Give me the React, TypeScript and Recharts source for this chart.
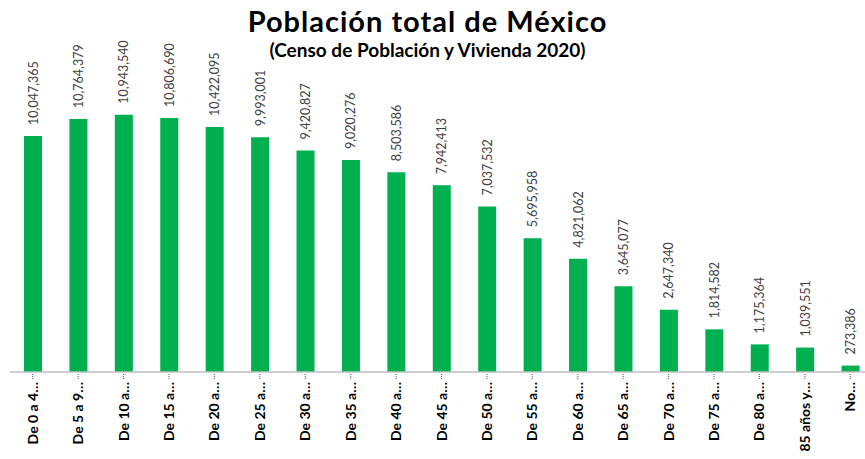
import { Bar, BarChart, LabelList, XAxis, YAxis } from "recharts";

const categories = [
  "De 0 a 4…",
  "De 5 a 9…",
  "De 10 a…",
  "De 15 a…",
  "De 20 a…",
  "De 25 a…",
  "De 30 a…",
  "De 35 a…",
  "De 40 a…",
  "De 45 a…",
  "De 50 a…",
  "De 55 a…",
  "De 60 a…",
  "De 65 a…",
  "De 70 a…",
  "De 75 a…",
  "De 80 a…",
  "85 años y…",
  "No…",
];

const population = [
  10047365, 10764379, 10943540, 10806690, 10422095, 9993001, 9420827, 9020276,
  8503586, 7942413, 7037532, 5695958, 4821062, 3645077, 2647340, 1814582,
  1175364, 1039551, 273386,
];

const data = categories.map((name, i) => ({ name, value: population[i] }));

const font = "Lato, 'Open Sans', sans-serif";

function CategoryTick(props: any) {
  const { x, y, payload } = props;
  return (
    <g>
      <line x1={x} y1={y - 6} x2={x} y2={y - 1} stroke="#595959" strokeDasharray="1 1" />
      <text
        x={0}
        y={0}
        transform={`translate(${x + 5},${y + 2}) rotate(-90)`}
        textAnchor="end"
        fontFamily={font}
        fontWeight={700}
        fontSize={14}
        fill="#000"
      >
        {payload.value}
      </text>
    </g>
  );
}

function ValueLabel(props: any) {
  const { x, y, width, value } = props;
  const cx = x + width / 2 + 4.5;
  return (
    <text
      x={0}
      y={0}
      transform={`translate(${cx},${y - 11}) rotate(-90)`}
      textAnchor="start"
      fontFamily={font}
      fontSize={12.5}
      fill="#404040"
    >
      {Number(value).toLocaleString("en-US")}
    </text>
  );
}

export default function App() {
  return (
    <div
      style={{
        position: "absolute",
        left: 0,
        top: 0,
        width: 865,
        height: 459,
        overflow: "hidden",
        background: "#fff",
      }}
    >
      <div
        style={{
          position: "absolute",
          left: 0,
          top: 3,
          width: 855,
          textAlign: "center",
          fontFamily: font,
          fontWeight: 700,
          fontSize: 29,
          letterSpacing: 1,
          color: "#000",
        }}
      >
        Población total de México
      </div>
      <div
        style={{
          position: "absolute",
          left: 0,
          top: 38,
          width: 855,
          textAlign: "center",
          fontFamily: font,
          fontWeight: 700,
          fontSize: 19,
          color: "#000",
        }}
      >
        (Censo de Población y Vivienda 2020)
      </div>
      <div style={{ position: "absolute", left: 0, top: 0 }}>
        <BarChart
          width={875}
          height={459}
          data={data}
          margin={{ top: 90, right: 2, bottom: 0, left: 10 }}
        >
          <XAxis
            dataKey="name"
            interval={0}
            height={87}
            axisLine={{ stroke: "#bfbfbf", strokeWidth: 1.5 }}
            tickLine={false}
            tick={<CategoryTick />}
          />
          <YAxis hide domain={[0, 12000000]} />
          <Bar dataKey="value" fill="#00b050" barSize={18} isAnimationActive={false}>
            <LabelList dataKey="value" content={<ValueLabel />} />
          </Bar>
        </BarChart>
      </div>
    </div>
  );
}
